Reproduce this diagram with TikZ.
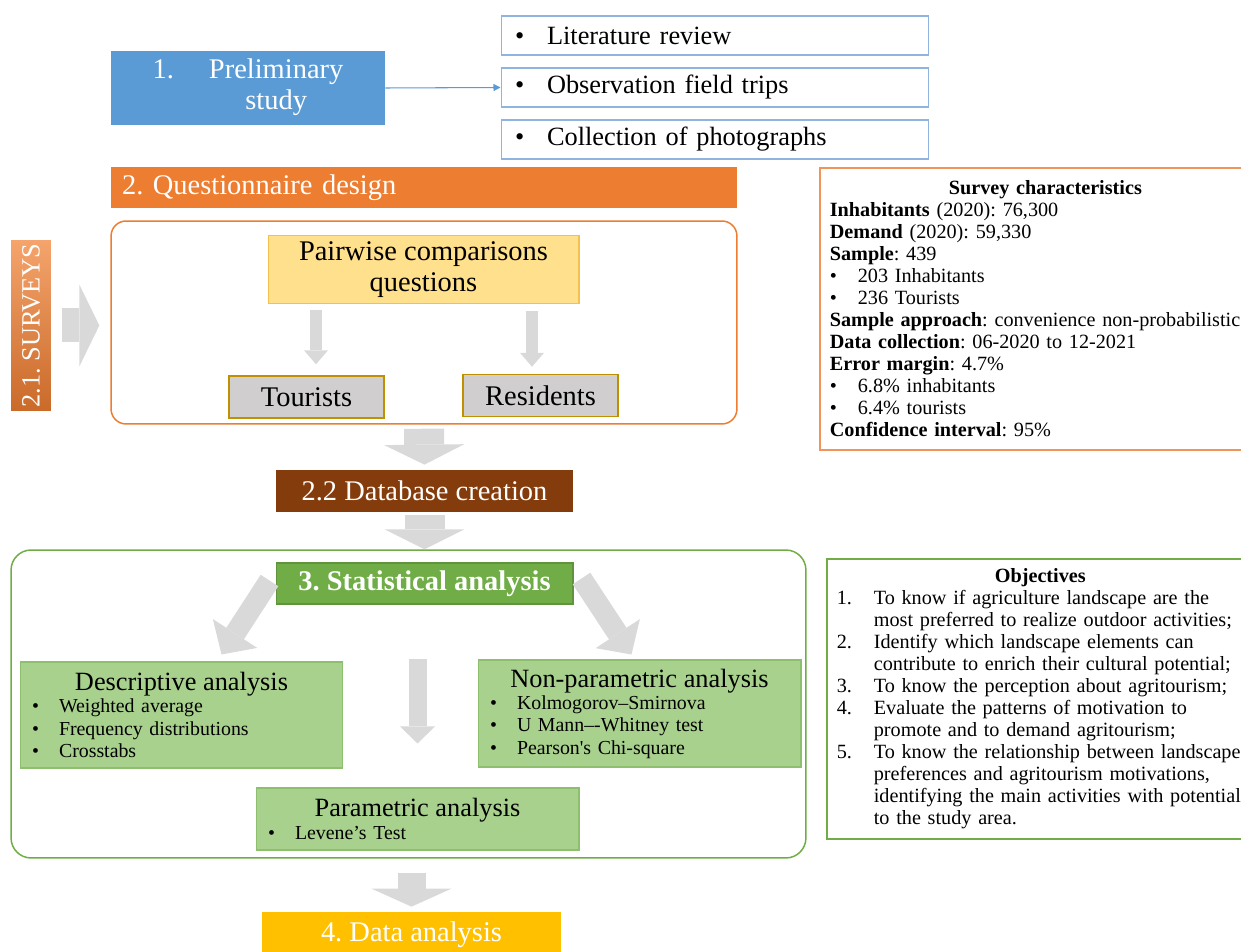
\documentclass[tikz,border=0pt]{standalone}
\usepackage{fontspec}
\setmainfont{Liberation Serif}
\usepackage{tikz}
\usetikzlibrary{arrows.meta,positioning,calc}
\frenchspacing

\definecolor{prelimblue}{HTML}{5B9BD5}
\definecolor{listblue}{HTML}{8FB4DE}
\definecolor{qorange}{HTML}{ED7D31}
\definecolor{noteorange}{HTML}{F0955A}
\definecolor{surveylight}{HTML}{F4A46C}
\definecolor{pairfill}{HTML}{FFE08C}
\definecolor{pairline}{HTML}{F2C14E}
\definecolor{boxgray}{HTML}{D0CECE}
\definecolor{goldline}{HTML}{BF9000}
\definecolor{dbbrown}{HTML}{843C0C}
\definecolor{statgreen}{HTML}{70AD47}
\definecolor{palegreen}{HTML}{A9D18E}
\definecolor{greenline}{HTML}{8DBF6E}
\definecolor{arrowgray}{HTML}{D9D9D9}
\definecolor{datayellow}{HTML}{FFC000}

\newcommand{\bigfont}{\fontsize{16.2}{17.6}\selectfont}
\newcommand{\midfont}{\fontsize{15}{16.5}\selectfont}
\newcommand{\itemfont}{\fontsize{11.3}{12.7}\selectfont}
\newcommand{\notefont}{\fontsize{11.5}{12.5}\selectfont}
\newcommand{\bitem}[2][0.54cm]{\makebox[#1][l]{\textbullet}#2}
\newcommand{\nitem}[2]{\makebox[0.74cm][l]{#1}#2}
\newcommand{\boxtitle}[1]{\makebox[5.98cm]{\midfont #1}}

\tikzset{
    stagebox/.style={minimum height=0.82cm, text=white, font=\bigfont, inner sep=0pt},
    listbox/.style={draw=listblue, line width=0.6pt, fill=white, minimum width=8.56cm,
        minimum height=0.78cm, text width=8cm, align=left, font=\midfont, inner xsep=0.28cm, inner ysep=0pt},
    framebox/.style={rounded corners=0.3cm, line width=0.85pt},
    pairbox/.style={fill=pairfill, draw=pairline, line width=0.6pt, minimum width=6.22cm,
        minimum height=1.34cm, align=center, font=\bigfont},
    greybox/.style={fill=boxgray, draw=goldline, line width=0.8pt, minimum width=3.1cm,
        minimum height=0.84cm, font=\bigfont},
    greenbox/.style={fill=palegreen, draw=greenline, line width=0.6pt, minimum width=6.46cm,
        text width=5.98cm, align=left, font=\itemfont, inner xsep=0.24cm},
    notebox/.style={line width=1pt, anchor=north west, text width=8.6cm, align=left,
        font=\notefont, inner xsep=0.2cm},
    fatarrow/.style n args={3}{draw=arrowgray, line width=#1,
        -{Triangle[width=#2, length=#3, line width=0pt]}},
    thinarrow/.style={draw=prelimblue, line width=0.6pt, -{Triangle[width=4pt, length=4pt]}}
}

\begin{document}
\begin{tikzpicture}[x=0.02cm, y=-0.02cm]
    \clip (0,0) rectangle (1241,952);
    % step 1
    \node[stagebox, fill=prelimblue, minimum width=5.48cm, minimum height=1.5cm] (prelim) at (248,88)
        {\begin{tabular}{@{}l@{\hspace{0.7cm}}c@{}}1.&Preliminary\\&study\end{tabular}};
    \node[listbox] (litrev) at (715,35.5) {\bitem[0.64cm]{Literature review}};
    \node[listbox] (fieldtrips) at (715,87.5) {\bitem[0.64cm]{Observation field trips}};
    \node[listbox] (photos) at (715,139.5) {\bitem[0.64cm]{Collection of photographs}};
    \draw[thinarrow] (prelim.east) -- (fieldtrips.west);

    % step 2
    \node[stagebox, fill=qorange, minimum width=12.52cm, text width=12.08cm, align=left,
        inner xsep=0.22cm] (qdesign) at (424,187.5) {2. Questionnaire design};
    \node[framebox, draw=qorange, minimum width=12.52cm, minimum height=4.06cm] (surveyframe) at (424,322.5) {};
    \node[stagebox, rotate=90, minimum width=3.42cm, minimum height=0.8cm, font=\midfont,
        top color=surveylight, bottom color=qorange!85!black] (surveys) at (31,325.5) {2.1. SURVEYS};
    \draw[fatarrow={0.68cm}{1.64cm}{0.4cm}, shorten <=0.22cm, shorten >=0.22cm]
        (surveys.south) -- (surveys.south -| surveyframe.west);
    \node[pairbox] (pairwise) at (423.5,269.5) {Pairwise comparisons\\questions};
    \node[greybox] (tourists) at (306.5,397) {Tourists};
    \node[greybox] (residents) at (540.5,395.5) {Residents};
    \draw[fatarrow={0.24cm}{0.48cm}{0.28cm}, shorten <=0.12cm, shorten >=0.22cm]
        ([xshift=0.19cm]tourists.north |- pairwise.south) -- ([xshift=0.19cm]tourists.north);
    \draw[fatarrow={0.24cm}{0.48cm}{0.28cm}, shorten <=0.14cm, shorten >=0.14cm]
        ([xshift=-0.17cm]residents.north |- pairwise.south) -- ([xshift=-0.17cm]residents.north);

    \node[stagebox, fill=dbbrown, minimum width=5.94cm, minimum height=0.84cm] (dbcreate) at (424.5,491) {2.2 Database creation};
    \draw[fatarrow={0.8cm}{1.6cm}{0.4cm}, shorten <=0.08cm, shorten >=0.1cm] (surveyframe.south) -- (dbcreate.north);

    % step 3
    \node[framebox, draw=statgreen, rounded corners=0.4cm, minimum width=15.9cm, minimum height=6.16cm] (statframe) at (408.5,704) {};
    \draw[fatarrow={0.8cm}{1.6cm}{0.4cm}, shorten <=0.06cm] (dbcreate.south) -- (dbcreate.south |- statframe.north);
    \node[stagebox, fill=statgreen, draw=statgreen!85!black, line width=0.6pt, minimum width=5.94cm,
        font=\bigfont\bfseries] (stat) at (424.5,583.5) {3. Statistical analysis};
    \node[greenbox, minimum height=2.12cm] (desc) at (181.5,715)
        {\boxtitle{Descriptive analysis}\\\bitem{Weighted average}\\\bitem{Frequency distributions}\\\bitem{Crosstabs}};
    \node[greenbox, minimum height=2.14cm] (nonpar) at (639.5,713.5)
        {\boxtitle{Non-parametric analysis}\\\bitem{Kolmogorov--Smirnova}\\\bitem{U Mann--{}-Whitney test}\\\bitem{Pearson\textquotesingle s Chi-square}};
    \node[greenbox, minimum height=1.24cm] (param) at (417.5,819)
        {\boxtitle{Parametric analysis}\\\bitem{Levene's Test}};
    \draw[fatarrow={0.42cm}{1.06cm}{0.5cm}] ($(stat.west)+(-6,-3)$) -- ($(desc.north)+(40,-7)$);
    \draw[fatarrow={0.42cm}{1.06cm}{0.5cm}] ($(stat.east)+(8,-5)$) -- ($(nonpar.north)+(-8,-5)$);
    \draw[fatarrow={0.36cm}{0.7cm}{0.34cm}, shorten <=1.08cm, shorten >=0.88cm] (param.north |- stat.south) -- (param.north);

    % step 4
    \node[stagebox, fill=datayellow, minimum width=5.98cm, minimum height=0.92cm] (dataan) at (411.5,935) {4. Data analysis};
    \draw[fatarrow={0.56cm}{1.6cm}{0.36cm}, shorten <=0.28cm, shorten >=0.1cm] (statframe.south -| dataan.north) -- (dataan.north);

    % side notes
    \node[notebox, draw=noteorange, minimum height=5.64cm] (surveychar) at (819,167) {%
        \hspace*{2.38cm}\textbf{Survey characteristics}\\
        \textbf{Inhabitants} (2020): 76,300\\
        \textbf{Demand} (2020): 59,330\\
        \textbf{Sample}: 439\\
        \bitem[0.56cm]{203 Inhabitants}\\
        \bitem[0.56cm]{236 Tourists}\\
        \textbf{Sample approach}: convenience non-probabilistic\\
        \textbf{Data collection}: 06-2020 to 12-2021\\
        \textbf{Error margin}: 4.7\%\\
        \bitem[0.56cm]{6.8\% inhabitants}\\
        \bitem[0.56cm]{6.4\% tourists}\\
        \textbf{Confidence interval}: 95\%};
    \node[notebox, draw=statgreen, minimum height=5.6cm] (objectives) at (826,558) {%
        \hspace*{3.16cm}\textbf{Objectives}\\
        \nitem{1.}{To know if agriculture landscape are the}\\
        \hspace*{0.74cm}most preferred to realize outdoor activities;\\
        \nitem{2.}{Identify which landscape elements can}\\
        \hspace*{0.74cm}contribute to enrich their cultural potential;\\
        \nitem{3.}{To know the perception about agritourism;}\\
        \nitem{4.}{Evaluate the patterns of motivation to}\\
        \hspace*{0.74cm}promote and to demand agritourism;\\
        \nitem{5.}{To know the relationship between landscape}\\
        \hspace*{0.74cm}preferences and agritourism motivations,\\
        \hspace*{0.74cm}identifying the main activities with potential\\
        \hspace*{0.74cm}to the study area.};
\end{tikzpicture}
\end{document}
